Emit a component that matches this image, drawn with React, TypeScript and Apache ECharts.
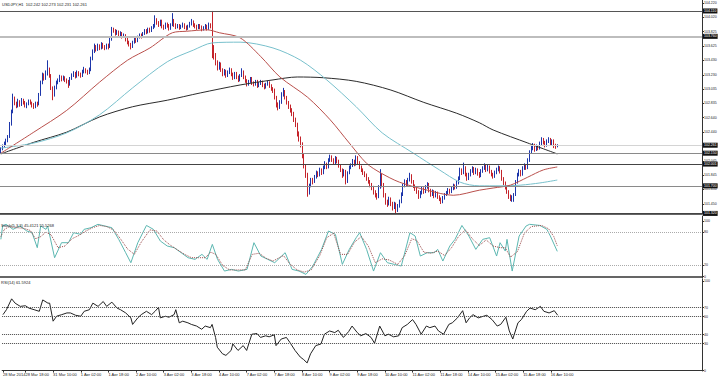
import React, { useEffect, useRef } from "react";
import * as echarts from "echarts";

// ---------- data ----------
const TOTAL_SLOTS = 405; // hourly slots on the x axis (data + right-side chart shift)
const FIRST_LABEL_BAR = 13;
const LABEL_STEP = 16;
const DATE_LABELS = [
  "28 Mar 2014", "28 Mar 18:00", "31 Mar 10:00", "1 Apr 02:00", "1 Apr 18:00", "2 Apr 10:00",
  "3 Apr 02:00", "3 Apr 18:00", "4 Apr 10:00", "7 Apr 02:00", "7 Apr 18:00", "8 Apr 10:00",
  "9 Apr 02:00", "9 Apr 18:00", "10 Apr 10:00", "11 Apr 02:00", "11 Apr 18:00", "14 Apr 10:00",
  "15 Apr 02:00", "15 Apr 18:00", "16 Apr 10:00",
];
const PRICE_TICKS = [101.45, 101.65, 101.845, 102.045, 102.245, 102.44, 102.64, 102.835, 103.035, 103.23, 103.43, 103.625, 103.825, 104.02, 104.22];
const STOCH_TICKS = [100, 80, 20, 0];
const RSI_TICKS = [100, 70, 60, 40, 30, 0];
const STOCH_LEVELS = [80, 20];
const RSI_LEVELS = [70, 60, 40, 30];
const PRICE_LEVELS = [104.11, 103.76, 102.261, 102.15, 102.001, 101.7, 101.32];

const TITLE_MAIN = "USDJPY,H1  102.242 102.273 102.231 102.261";
const TITLE_STOCH = "Stoch(5,3,3) 45.4121 55.5268";
const TITLE_RSI = "RSI(14) 61.5924";

// [open, close, low, high]
const CANDLES = [
  [102.17,102.21,102.15,102.23],[102.21,102.25,102.19,102.27],[102.25,102.28,102.23,102.31],[102.28,102.33,102.26,102.35],
  [102.33,102.37,102.30,102.40],[102.37,102.55,102.36,102.58],[102.55,102.72,102.53,102.75],[102.72,102.90,102.70,102.97],
  [102.90,102.84,102.81,102.93],[102.84,102.80,102.77,102.86],[102.80,102.86,102.78,102.90],[102.86,102.82,102.79,102.88],
  [102.82,102.88,102.80,102.91],[102.88,102.85,102.82,102.90],[102.85,102.80,102.78,102.87],[102.80,102.83,102.77,102.85],
  [102.83,102.87,102.81,102.89],[102.87,102.84,102.82,102.89],[102.84,102.81,102.78,102.86],[102.81,102.79,102.76,102.84],
  [102.79,102.84,102.77,102.86],[102.84,102.82,102.79,102.86],[102.82,102.95,102.81,102.98],[102.95,103.12,102.94,103.15],
  [103.12,103.22,103.10,103.26],[103.22,103.18,103.15,103.25],[103.18,103.25,103.16,103.29],[103.25,103.30,103.22,103.43],
  [103.30,103.22,103.19,103.33],[103.22,103.05,103.02,103.24],[103.05,102.95,102.88,103.07],[102.95,103.05,102.93,103.08],
  [103.05,103.12,103.03,103.15],[103.12,103.15,103.10,103.18],[103.15,103.20,103.13,103.23],[103.20,103.17,103.14,103.22],
  [103.17,103.19,103.15,103.22],[103.19,103.16,103.13,103.21],[103.16,103.14,103.11,103.18],[103.14,103.10,103.05,103.16],
  [103.10,103.18,103.08,103.20],[103.18,103.22,103.16,103.25],[103.22,103.25,103.20,103.28],[103.25,103.21,103.18,103.27],
  [103.21,103.26,103.19,103.29],[103.26,103.24,103.21,103.28],[103.24,103.22,103.19,103.26],[103.22,103.27,103.20,103.30],
  [103.27,103.30,103.25,103.34],[103.30,103.28,103.25,103.32],[103.28,103.26,103.23,103.30],[103.26,103.30,103.24,103.33],
  [103.30,103.45,103.28,103.48],[103.45,103.55,103.43,103.58],[103.55,103.62,103.53,103.66],[103.62,103.58,103.55,103.64],
  [103.58,103.63,103.56,103.66],[103.63,103.60,103.57,103.65],[103.60,103.65,103.58,103.68],[103.65,103.62,103.59,103.67],
  [103.62,103.60,103.57,103.64],[103.60,103.64,103.58,103.66],[103.64,103.61,103.58,103.66],[103.61,103.72,103.60,103.75],
  [103.72,103.86,103.70,103.89],[103.86,103.84,103.81,103.88],[103.84,103.80,103.77,103.86],[103.80,103.82,103.78,103.85],
  [103.82,103.78,103.75,103.84],[103.78,103.80,103.76,103.83],[103.80,103.76,103.73,103.82],[103.76,103.78,103.74,103.80],
  [103.78,103.72,103.69,103.79],[103.72,103.68,103.65,103.74],[103.68,103.65,103.62,103.70],[103.65,103.62,103.58,103.67],
  [103.62,103.68,103.60,103.70],[103.68,103.72,103.66,103.74],[103.72,103.70,103.67,103.74],[103.70,103.75,103.68,103.77],
  [103.75,103.78,103.73,103.80],[103.78,103.76,103.73,103.80],[103.76,103.80,103.74,103.82],[103.80,103.84,103.78,103.86],
  [103.84,103.82,103.79,103.86],[103.82,103.86,103.80,103.88],[103.86,103.84,103.81,103.88],[103.84,103.88,103.82,103.90],
  [103.88,103.90,103.86,103.93],[103.90,103.98,103.88,104.05],[103.98,103.95,103.92,104.01],[103.95,103.92,103.89,103.97],
  [103.92,103.97,103.90,103.99],[103.97,103.90,103.87,103.99],[103.90,103.88,103.85,103.92],[103.88,103.93,103.86,103.95],
  [103.93,103.91,103.88,103.95],[103.91,103.87,103.84,103.93],[103.87,103.92,103.85,103.94],[103.92,103.98,103.90,104.08],
  [103.98,103.92,103.89,104.00],[103.92,103.89,103.86,103.94],[103.89,103.91,103.87,103.93],[103.91,103.88,103.85,103.93],
  [103.88,103.90,103.86,103.92],[103.90,103.92,103.88,103.95],[103.92,103.89,103.86,103.94],[103.89,103.87,103.84,103.91],
  [103.87,103.90,103.85,103.92],[103.90,103.93,103.88,103.96],[103.93,103.96,103.91,104.00],[103.96,103.92,103.89,103.98],
  [103.92,103.90,103.87,103.94],[103.90,103.88,103.85,103.92],[103.88,103.91,103.86,103.93],[103.91,103.89,103.86,103.93],
  [103.89,103.86,103.83,103.91],[103.86,103.88,103.84,103.90],[103.88,103.90,103.86,103.93],[103.90,103.87,103.84,103.92],
  [103.87,103.92,103.85,103.95],[103.92,103.90,103.87,103.94],[103.90,103.62,103.46,104.11],[103.62,103.50,103.44,103.64],
  [103.50,103.40,103.36,103.53],[103.40,103.33,103.29,103.43],[103.33,103.38,103.30,103.41],[103.38,103.30,103.27,103.40],
  [103.30,103.25,103.21,103.32],[103.25,103.28,103.22,103.31],[103.28,103.22,103.19,103.30],[103.22,103.26,103.20,103.29],
  [103.26,103.30,103.24,103.33],[103.30,103.24,103.21,103.32],[103.24,103.19,103.16,103.26],[103.19,103.25,103.17,103.27],
  [103.25,103.20,103.17,103.27],[103.20,103.16,103.13,103.22],[103.16,103.22,103.14,103.24],[103.22,103.27,103.20,103.32],
  [103.27,103.20,103.17,103.29],[103.20,103.15,103.12,103.22],[103.15,103.10,103.07,103.17],[103.10,103.14,103.08,103.16],
  [103.14,103.18,103.12,103.20],[103.18,103.12,103.09,103.20],[103.12,103.10,103.07,103.14],[103.10,103.14,103.08,103.16],
  [103.14,103.08,103.05,103.16],[103.08,103.11,103.06,103.13],[103.11,103.13,103.09,103.16],[103.13,103.09,103.06,103.15],
  [103.09,103.06,103.03,103.11],[103.06,103.10,103.04,103.12],[103.10,103.12,103.08,103.15],[103.12,103.08,103.05,103.14],
  [103.08,103.04,103.01,103.10],[103.04,103.02,102.98,103.06],[103.02,102.92,102.89,103.04],[102.92,102.82,102.78,102.94],
  [102.82,102.78,102.74,102.85],[102.78,102.85,102.76,102.88],[102.85,102.96,102.83,102.99],[102.96,103.00,102.93,103.05],
  [103.00,102.92,102.89,103.02],[102.92,102.85,102.82,102.94],[102.85,102.80,102.76,102.87],[102.80,102.75,102.71,102.82],
  [102.75,102.70,102.66,102.77],[102.70,102.62,102.58,102.72],[102.62,102.55,102.51,102.64],[102.55,102.42,102.38,102.57],
  [102.42,102.35,102.31,102.45],[102.35,102.28,102.23,102.38],[102.28,102.12,102.08,102.30],[102.12,101.98,101.94,102.14],
  [101.98,101.86,101.81,102.00],[101.86,101.62,101.55,101.88],[101.62,101.70,101.58,101.73],[101.70,101.78,101.68,101.81],
  [101.78,101.76,101.72,101.81],[101.76,101.82,101.74,101.85],[101.82,101.88,101.80,101.91],[101.88,101.85,101.82,101.90],
  [101.85,101.92,101.83,101.95],[101.92,101.88,101.85,101.94],[101.88,101.95,101.86,101.98],[101.95,102.00,101.93,102.04],
  [102.00,101.96,101.93,102.02],[101.96,102.05,101.94,102.08],[102.05,102.10,102.03,102.13],[102.10,102.06,102.03,102.12],
  [102.06,102.02,101.99,102.08],[102.02,102.08,102.00,102.11],[102.08,102.04,102.01,102.10],[102.04,101.98,101.95,102.06],
  [101.98,101.92,101.89,102.00],[101.92,101.85,101.81,101.94],[101.85,101.90,101.83,101.93],[101.90,101.76,101.72,101.92],
  [101.76,101.88,101.74,101.90],[101.88,101.95,101.86,101.98],[101.95,101.98,101.93,102.01],[101.98,102.04,101.96,102.07],
  [102.04,102.00,101.97,102.06],[102.00,102.09,101.98,102.12],[102.09,102.02,101.99,102.11],[102.02,101.96,101.93,102.04],
  [101.96,101.92,101.89,101.98],[101.92,101.88,101.85,101.94],[101.88,101.85,101.82,101.90],[101.85,101.80,101.77,101.87],
  [101.80,101.76,101.73,101.82],[101.76,101.72,101.68,101.78],[101.72,101.68,101.64,101.74],[101.68,101.62,101.58,101.70],
  [101.62,101.58,101.54,101.64],[101.58,101.55,101.51,101.60],[101.55,101.68,101.53,101.71],[101.68,101.85,101.66,101.93],
  [101.85,101.72,101.68,101.87],[101.72,101.58,101.54,101.74],[101.58,101.48,101.44,101.60],[101.48,101.45,101.41,101.51],
  [101.45,101.52,101.43,101.55],[101.52,101.46,101.42,101.54],[101.46,101.40,101.36,101.48],[101.40,101.45,101.38,101.48],
  [101.45,101.38,101.32,101.47],[101.38,101.42,101.34,101.45],[101.42,101.48,101.40,101.51],[101.48,101.58,101.46,101.61],
  [101.58,101.70,101.56,101.73],[101.70,101.76,101.68,101.79],[101.76,101.72,101.69,101.78],[101.72,101.78,101.70,101.81],
  [101.78,101.84,101.76,101.88],[101.84,101.76,101.73,101.86],[101.76,101.70,101.67,101.78],[101.70,101.66,101.63,101.72],
  [101.66,101.62,101.59,101.68],[101.62,101.55,101.52,101.64],[101.55,101.60,101.53,101.63],[101.60,101.66,101.58,101.69],
  [101.66,101.62,101.59,101.68],[101.62,101.68,101.60,101.71],[101.68,101.72,101.66,101.75],[101.72,101.64,101.61,101.74],
  [101.64,101.58,101.55,101.66],[101.58,101.62,101.56,101.65],[101.62,101.56,101.53,101.64],[101.56,101.60,101.54,101.63],
  [101.60,101.55,101.52,101.62],[101.55,101.52,101.49,101.57],[101.52,101.48,101.45,101.54],[101.48,101.53,101.46,101.56],
  [101.53,101.58,101.51,101.60],[101.58,101.60,101.56,101.63],[101.60,101.64,101.58,101.67],[101.64,101.62,101.59,101.66],
  [101.62,101.66,101.60,101.69],[101.66,101.70,101.64,101.73],[101.70,101.68,101.65,101.72],[101.68,101.74,101.66,101.77],
  [101.74,101.80,101.72,101.83],[101.80,101.92,101.78,101.95],[101.92,101.88,101.85,101.94],[101.88,101.95,101.86,102.02],
  [101.95,101.86,101.83,101.97],[101.86,101.80,101.77,101.88],[101.80,101.85,101.78,101.88],[101.85,101.90,101.83,101.93],
  [101.90,101.94,101.88,101.97],[101.94,101.88,101.85,101.96],[101.88,101.92,101.86,101.95],[101.92,101.87,101.84,101.94],
  [101.87,101.84,101.81,101.89],[101.84,101.90,101.82,101.93],[101.90,101.94,101.88,101.97],[101.94,101.98,101.92,102.01],
  [101.98,101.92,101.89,102.00],[101.92,101.96,101.90,101.99],[101.96,101.90,101.87,101.98],[101.90,101.86,101.83,101.92],
  [101.86,101.83,101.80,101.88],[101.83,101.88,101.81,101.91],[101.88,101.92,101.86,101.95],[101.92,101.95,101.90,101.98],
  [101.95,101.90,101.87,101.97],[101.90,101.80,101.77,101.92],[101.80,101.74,101.71,101.82],[101.74,101.68,101.65,101.76],
  [101.68,101.62,101.59,101.70],[101.62,101.56,101.52,101.64],[101.56,101.52,101.49,101.58],[101.52,101.55,101.48,101.57],
  [101.55,101.58,101.48,101.60],[101.58,101.75,101.56,101.78],[101.75,101.85,101.73,101.88],[101.85,101.90,101.83,101.93],
  [101.90,101.86,101.83,101.92],[101.86,101.94,101.84,101.97],[101.94,101.98,101.92,102.01],[101.98,101.95,101.92,102.00],
  [101.95,102.05,101.93,102.08],[102.05,102.16,102.03,102.19],[102.16,102.22,102.14,102.25],[102.22,102.26,102.19,102.29],
  [102.26,102.20,102.17,102.28],[102.20,102.24,102.18,102.27],[102.24,102.22,102.19,102.26],[102.22,102.28,102.20,102.31],
  [102.28,102.34,102.26,102.37],[102.34,102.30,102.27,102.36],[102.30,102.26,102.23,102.32],[102.26,102.31,102.24,102.34],
  [102.31,102.35,102.29,102.37],[102.35,102.28,102.25,102.36],[102.28,102.32,102.26,102.34],[102.32,102.25,102.22,102.34],
  [102.25,102.242,102.21,102.28],[102.242,102.261,102.231,102.273],
];

// moving averages read at points: [bar index, value]
const MA_RED = [[0,102.15],[19,102.44],[38,102.74],[57,103.13],[73,103.43],[86,103.60],[99,103.81],[107,103.83],[119,103.85],[126,103.81],[138,103.74],[150,103.48],[161,103.20],[177,102.92],[190,102.61],[201,102.29],[211,102.01],[219,101.88],[230,101.75],[246,101.64],[261,101.57],[276,101.64],[284,101.67],[294,101.71],[304,101.82],[313,101.92],[321,101.96]];
const MA_TEAL = [[0,102.22],[19,102.29],[38,102.43],[57,102.68],[76,103.05],[96,103.41],[111,103.57],[122,103.67],[138,103.68],[157,103.60],[173,103.43],[188,103.16],[205,102.79],[220,102.43],[238,102.15],[253,101.92],[265,101.75],[276,101.70],[288,101.70],[300,101.71],[311,101.74],[321,101.78]];
const MA_BLACK = [[0,102.14],[19,102.30],[38,102.44],[57,102.65],[76,102.79],[96,102.88],[115,102.98],[138,103.09],[157,103.16],[171,103.20],[186,103.19],[205,103.14],[225,103.02],[244,102.85],[263,102.70],[276,102.57],[284,102.47],[304,102.29],[321,102.14]];

const STOCH_MAIN = [[0,67],[1,91],[3,94],[7,85],[11,91],[15,82],[18,79],[21,52],[23,91],[26,85],[27,91],[31,34],[35,61],[39,61],[42,79],[46,76],[48,85],[52,88],[56,94],[60,91],[64,88],[68,67],[72,43],[75,25],[79,61],[84,92],[88,85],[92,64],[96,55],[100,52],[104,43],[108,34],[112,31],[116,40],[119,31],[122,58],[125,31],[129,10],[133,13],[137,10],[142,13],[146,61],[150,37],[154,31],[158,25],[164,43],[168,13],[172,10],[176,4],[180,19],[185,49],[189,82],[193,76],[197,22],[201,49],[205,70],[207,79],[211,49],[215,10],[219,43],[223,25],[227,22],[231,19],[236,79],[239,73],[242,37],[246,43],[250,43],[252,49],[255,28],[259,55],[262,67],[266,92],[270,73],[274,49],[278,67],[282,70],[286,37],[288,61],[291,46],[292,67],[295,10],[299,73],[303,91],[305,94],[311,92],[315,85],[317,73],[321,45.4]];
const STOCH_SIGNAL = [[0,72],[2,85],[5,90],[9,88],[13,87],[17,83],[20,68],[23,72],[26,80],[29,75],[33,52],[37,55],[41,68],[45,74],[49,82],[53,88],[57,92],[61,90],[65,84],[69,68],[73,50],[77,40],[81,62],[86,84],[90,82],[94,66],[98,56],[102,48],[106,40],[110,34],[114,34],[118,34],[121,44],[124,40],[128,20],[132,12],[136,12],[141,12],[145,40],[149,42],[153,33],[157,28],[163,38],[167,22],[171,12],[175,8],[179,12],[184,38],[188,70],[192,78],[196,40],[200,40],[204,62],[208,72],[212,55],[216,25],[220,32],[224,30],[229,22],[233,38],[237,68],[240,65],[244,44],[248,42],[252,46],[256,38],[260,52],[264,72],[268,84],[272,68],[276,56],[280,66],[284,55],[288,52],[291,52],[294,35],[298,45],[302,78],[306,90],[312,92],[316,86],[319,72],[321,55.5]];
const RSI = [[0,62.3],[2,67.8],[5,79.9],[7,75.1],[10,71.5],[13,72.2],[15,69.6],[18,67.8],[21,66.0],[23,78.7],[26,75.1],[27,75.1],[29,55.0],[31,60.5],[34,62.3],[37,64.2],[39,64.2],[42,61.6],[45,60.5],[47,66.0],[50,67.8],[52,75.1],[55,71.5],[58,76.9],[60,71.5],[63,76.2],[66,69.6],[68,67.8],[71,64.2],[74,58.7],[75,51.4],[78,58.7],[80,62.3],[83,66.0],[86,62.3],[88,66.0],[90,70.4],[91,58.7],[94,60.5],[96,59.4],[99,62.3],[100,67.8],[102,53.2],[104,55.0],[107,53.2],[109,51.4],[112,49.6],[115,46.0],[117,49.6],[120,47.8],[121,51.4],[123,36.9],[124,26.0],[127,18.7],[129,16.9],[132,22.4],[133,29.6],[136,22.4],[139,27.8],[141,22.4],[144,40.5],[147,41.2],[149,36.9],[152,38.7],[154,37.6],[157,39.8],[158,27.8],[161,35.1],[164,36.9],[166,31.4],[169,22.4],[172,15.1],[174,12.2],[176,8.5],[178,18.7],[181,27.8],[184,29.6],[186,40.5],[189,44.1],[192,42.3],[194,44.9],[197,36.9],[200,43.4],[202,49.6],[205,42.3],[207,38.7],[210,41.2],[213,36.9],[215,30.4],[218,49.6],[221,38.7],[223,40.5],[226,37.6],[229,38.7],[231,47.8],[234,51.4],[237,56.8],[239,51.4],[242,40.5],[245,49.6],[247,47.8],[250,49.6],[252,44.1],[255,40.5],[258,51.4],[260,53.2],[263,58.7],[266,66.7],[268,53.2],[270,58.7],[272,62.3],[275,58.7],[278,60.5],[280,61.6],[283,56.8],[286,49.6],[288,51.4],[291,59.4],[293,44.1],[295,35.1],[298,53.2],[300,56.8],[303,66.0],[305,69.6],[308,67.8],[311,71.5],[313,66.0],[316,64.2],[319,66.7],[321,61.6]];

// ---------- styles ----------
const FONT = "'Liberation Sans', Arial, sans-serif";
const LEVEL_STYLES = [
  { color: "#555", width: 1 },
  { color: "#bdbdbd", width: 2 },
  { color: "#d4d4d4", width: 1 },
  { color: "#8a8a8a", width: 1 },
  { color: "#444", width: 1 },
  { color: "#8a8a8a", width: 1 },
  { color: "#444", width: 1 },
];

export default function App() {
  const ref = useRef<HTMLDivElement>(null);

  useEffect(() => {
    if (!ref.current) return;
    const chart = echarts.init(ref.current, null, { renderer: "svg" });

    const slots = Array.from({ length: TOTAL_SLOTS }, (_, i) => String(i));
    const labelAt = new Map<number, string>();
    labelAt.set(0, DATE_LABELS[0]);
    for (let k = 1; k < DATE_LABELS.length; k++) {
      labelAt.set(FIRST_LABEL_BAR + LABEL_STEP * (k - 1), DATE_LABELS[k]);
    }

    const xHidden = (grid: number, lineColor: string, lineWidth: number) => ({
      type: "category",
      gridIndex: grid,
      data: slots,
      boundaryGap: true,
      axisLine: { show: true, lineStyle: { color: lineColor, width: lineWidth } },
      axisTick: { show: false },
      axisLabel: { show: false },
      splitLine: { show: false },
    });

    const yAxisFor = (grid: number, min: number, max: number, ticks: number[], fmt: (v: number) => string) => ({
      type: "value",
      gridIndex: grid,
      position: "right",
      min,
      max,
      axisLine: { show: true, lineStyle: { color: "#333", width: 1 } },
      axisTick: { show: true, length: 2, customValues: ticks, lineStyle: { color: "#333" } },
      axisLabel: {
        show: true,
        customValues: ticks,
        formatter: fmt,
        fontSize: 3.5,
        margin: 2,
        color: "#222",
        fontFamily: FONT,
        hideOverlap: false,
      },
      splitLine: { show: false },
    });

    const titleStyle = { fontSize: 4, fontWeight: "normal", color: "#222", fontFamily: FONT };

    const option: any = {
      animation: false,
      backgroundColor: "#ffffff",
      title: [
        { text: TITLE_MAIN, left: 2, top: 2, padding: 0, textStyle: titleStyle },
        { text: TITLE_STOCH, left: 1, top: 223, padding: 0, textStyle: titleStyle },
        { text: TITLE_RSI, left: 1, top: 280, padding: 0, textStyle: titleStyle },
      ],
      grid: [
        { left: 0, right: 18, top: 0, height: 214 },
        { left: 0, right: 18, top: 216, height: 62 },
        { left: 0, right: 18, top: 279, height: 92 },
      ],
      xAxis: [
        xHidden(0, "#333", 1.5),
        xHidden(1, "#333", 1.5),
        {
          type: "category",
          gridIndex: 2,
          data: slots,
          boundaryGap: true,
          axisLine: { show: true, lineStyle: { color: "#333", width: 1 } },
          axisTick: {
            show: true,
            alignWithLabel: true,
            length: 2,
            interval: (i: number) => labelAt.has(i),
            lineStyle: { color: "#333" },
          },
          axisLabel: {
            show: true,
            interval: (i: number) => labelAt.has(i),
            formatter: (_v: string, i: number) => labelAt.get(i) ?? "",
            fontSize: 4,
            align: "left",
            margin: 1,
            color: "#222",
            fontFamily: FONT,
            hideOverlap: false,
          },
          splitLine: { show: false },
        },
      ],
      yAxis: [
        yAxisFor(0, 101.312, 104.261, PRICE_TICKS, (v) => v.toFixed(3)),
        yAxisFor(1, -2.5, 109, STOCH_TICKS, (v) => String(Math.round(v))),
        yAxisFor(2, -0.5, 102, RSI_TICKS, (v) => String(Math.round(v))),
      ],
      series: [
        {
          type: "candlestick",
          xAxisIndex: 0,
          yAxisIndex: 0,
          data: CANDLES,
          barWidth: 1,
          itemStyle: {
            color: "#1d36aa",
            color0: "#c4232a",
            borderColor: "#1d36aa",
            borderColor0: "#c4232a",
            borderWidth: 1,
          },
          markLine: {
            silent: true,
            symbol: ["none", "none"],
            animation: false,
            data: PRICE_LEVELS.map((v, k) => ({
              yAxis: v,
              lineStyle: { color: LEVEL_STYLES[k].color, width: LEVEL_STYLES[k].width, type: "solid" },
              label: {
                show: true,
                position: "end",
                distance: 1,
                formatter: v.toFixed(3),
                color: "#fff",
                backgroundColor: "#111",
                fontSize: 3.5,
                padding: [0.5, 1],
                fontFamily: FONT,
              },
            })),
          },
        },
        {
          type: "line", xAxisIndex: 0, yAxisIndex: 0, data: MA_BLACK, smooth: 0.3, showSymbol: false, symbol: "none",
          lineStyle: { color: "#2b2b2b", width: 1 }, z: 3,
        },
        {
          type: "line", xAxisIndex: 0, yAxisIndex: 0, data: MA_TEAL, smooth: 0.3, showSymbol: false, symbol: "none",
          lineStyle: { color: "#78c0cc", width: 1 }, z: 3,
        },
        {
          type: "line", xAxisIndex: 0, yAxisIndex: 0, data: MA_RED, smooth: 0.3, showSymbol: false, symbol: "none",
          lineStyle: { color: "#b9504c", width: 1 }, z: 3,
        },
        {
          type: "line", xAxisIndex: 1, yAxisIndex: 1, data: STOCH_MAIN, showSymbol: false, symbol: "none",
          lineStyle: { color: "#5cb7b1", width: 1 },
          markLine: {
            silent: true,
            symbol: ["none", "none"],
            label: { show: false },
            data: STOCH_LEVELS.map((v) => ({ yAxis: v })),
            lineStyle: { color: "#aaa", width: 1, type: "dotted" },
          },
        },
        {
          type: "line", xAxisIndex: 1, yAxisIndex: 1, data: STOCH_SIGNAL, showSymbol: false, symbol: "none",
          lineStyle: { color: "#9a4c4c", width: 1, type: "dotted" },
        },
        {
          type: "line", xAxisIndex: 2, yAxisIndex: 2, data: RSI, showSymbol: false, symbol: "none",
          lineStyle: { color: "#222", width: 1 },
          markLine: {
            silent: true,
            symbol: ["none", "none"],
            label: { show: false },
            data: RSI_LEVELS.map((v) => ({ yAxis: v })),
            lineStyle: { color: "#444", width: 1, type: "dotted" },
          },
        },
      ],
    };

    chart.setOption(option);
    return () => chart.dispose();
  }, []);

  return (
    <div
      ref={ref}
      style={{ position: "fixed", left: 0, top: 0, width: 720, height: 376, background: "#fff" }}
    />
  );
}
